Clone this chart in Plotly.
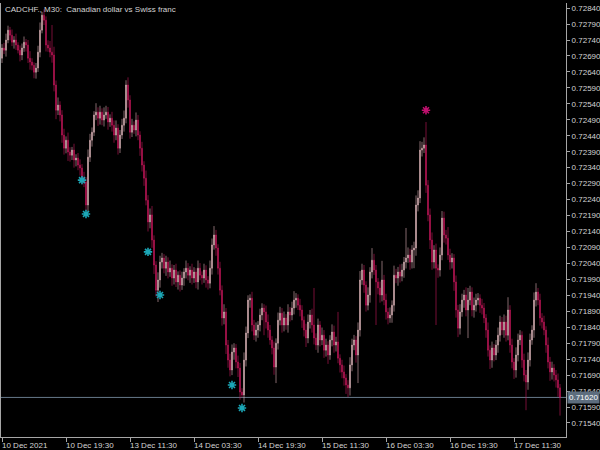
import plotly.graph_objects as go

# ---------------- data (CADCHF M30) ----------------
first_open = 0.72683
close = [
    0.72715, 0.72708, 0.72740, 0.72771, 0.72755, 0.72733, 0.72740, 0.72724, 0.72708, 0.72693,
    0.72715, 0.72733, 0.72724, 0.72683, 0.72671, 0.72661, 0.72639, 0.72652, 0.72702, 0.72771,
    0.72818, 0.72802, 0.72724, 0.72715, 0.72702, 0.72693, 0.72599, 0.72520, 0.72536, 0.72505,
    0.72442, 0.72401, 0.72426, 0.72389, 0.72379, 0.72395, 0.72364, 0.72370, 0.72348, 0.72339,
    0.72307, 0.72295, 0.72223, 0.72373, 0.72426, 0.72451, 0.72505, 0.72514, 0.72495, 0.72514,
    0.72489, 0.72505, 0.72514, 0.72483, 0.72495, 0.72473, 0.72442, 0.72464, 0.72401, 0.72442,
    0.72473, 0.72495, 0.72599, 0.72552, 0.72451, 0.72473, 0.72458, 0.72489, 0.72442, 0.72401,
    0.72348, 0.72307, 0.72238, 0.72170, 0.72192, 0.72113, 0.72035, 0.71956, 0.71988, 0.72044,
    0.72057, 0.72025, 0.72044, 0.72013, 0.72025, 0.71994, 0.72019, 0.71982, 0.72003, 0.71972,
    0.71994, 0.72013, 0.72025, 0.72003, 0.72019, 0.71994, 0.72013, 0.71982, 0.72025, 0.72003,
    0.71994, 0.72019, 0.71988, 0.71978, 0.72025, 0.72098, 0.72129, 0.72088, 0.72025, 0.71956,
    0.71869, 0.71888, 0.71784, 0.71737, 0.71706, 0.71762, 0.71775, 0.71731, 0.71712, 0.71637,
    0.71628, 0.71737, 0.71822, 0.71925, 0.71931, 0.71847, 0.71815, 0.71831, 0.71847, 0.71878,
    0.71900, 0.71888, 0.71856, 0.71831, 0.71800, 0.71775, 0.71715, 0.71790, 0.71862, 0.71884,
    0.71847, 0.71869, 0.71847, 0.71888, 0.71878, 0.71900, 0.71925, 0.71931, 0.71909, 0.71894,
    0.71862, 0.71831, 0.71806, 0.71856, 0.71878, 0.71847, 0.71806, 0.71784, 0.71847, 0.71800,
    0.71815, 0.71768, 0.71784, 0.71753, 0.71800, 0.71825, 0.71784, 0.71794, 0.71743, 0.71722,
    0.71700, 0.71681, 0.71659, 0.71650, 0.71722, 0.71784, 0.71800, 0.71753, 0.71831, 0.71988,
    0.72019, 0.71972, 0.71909, 0.71941, 0.72013, 0.72050, 0.72019, 0.71982, 0.71963, 0.71941,
    0.71988, 0.71925, 0.71888, 0.71869, 0.71878, 0.71909, 0.72003, 0.71994, 0.72013, 0.72000,
    0.72019, 0.72044, 0.72057, 0.72066, 0.72044, 0.72082, 0.72088, 0.72223, 0.72245, 0.72395,
    0.72401, 0.72411, 0.72285, 0.72192, 0.72113, 0.72044, 0.72082, 0.72025, 0.72019, 0.72066,
    0.72182, 0.72129, 0.72119, 0.72066, 0.72044, 0.72057, 0.71982, 0.71894, 0.71837, 0.71888,
    0.71925, 0.71941, 0.71894, 0.71925, 0.71950, 0.71894, 0.71909, 0.71925, 0.71931, 0.71909,
    0.71900, 0.71869, 0.71831, 0.71768, 0.71737, 0.71775, 0.71753, 0.71784, 0.71815, 0.71856,
    0.71831, 0.71856, 0.71815, 0.71894, 0.71784, 0.71731, 0.71706, 0.71753, 0.71800, 0.71815,
    0.71737, 0.71690, 0.71668, 0.71737, 0.71800, 0.71831, 0.71925, 0.71950, 0.71925, 0.71869,
    0.71856, 0.71831, 0.71784, 0.71731, 0.71700, 0.71712, 0.71690, 0.71675, 0.71650, 0.71620,
]

# wick extension beyond the body, in points (0.00001)
upper_wick_pts = [
    12, 16, 20, 14, 10, 18, 12, 20, 9, 15,
    14, 18, 10, 16, 22, 12, 9, 16, 20, 24,
    10, 18, 12, 15, 22, 85, 26, 14, 24, 12,
    15, 20, 12, 24, 15, 10, 20, 12, 16, 18,
    12, 20, 15, 24, 20, 15, 12, 28, 15, 20,
    12, 24, 20, 16, 12, 20, 15, 24, 12, 16,
    20, 24, 15, 24, 15, 20, 12, 24, 16, 12,
    20, 12, 24, 16, 20, 28, 15, 12, 24, 20,
    16, 12, 20, 15, 24, 12, 16, 20, 12, 15,
    20, 12, 24, 16, 12, 20, 15, 12, 24, 16,
    12, 20, 15, 12, 24, 20, 28, 16, 12, 20,
    15, 24, 12, 16, 20, 24, 15, 12, 20, 16,
    12, 24, 20, 15, 12, 20, 16, 24, 12, 20,
    15, 12, 20, 24, 16, 12, 20, 15, 24, 20,
    16, 20, 12, 24, 15, 20, 28, 16, 12, 20,
    15, 12, 20, 24, 16, 20, 116, 15, 20, 12,
    24, 16, 20, 12, 15, 24, 20, 16, 94, 12,
    16, 20, 12, 15, 24, 20, 16, 12, 24, 28,
    20, 16, 12, 24, 15, 38, 20, 16, 12, 20,
    60, 16, 20, 12, 24, 15, 30, 20, 16, 24,
    20, 16, 94, 24, 20, 15, 20, 30, 24, 28,
    20, 24, 72, 16, 20, 24, 15, 20, 12, 24,
    22, 20, 16, 35, 20, 15, 12, 20, 16, 24,
    20, 16, 24, 38, 20, 15, 24, 20, 16, 12,
    20, 16, 12, 24, 15, 20, 12, 16, 24, 20,
    16, 24, 20, 40, 15, 20, 12, 24, 20, 16,
    12, 20, 16, 24, 20, 15, 24, 28, 13, 20,
    15, 20, 12, 24, 16, 20, 12, 16, 20, 12,
]
lower_wick_pts = [
    15, 12, 20, 10, 16, 12, 20, 15, 10, 20,
    16, 12, 20, 15, 24, 16, 19, 20, 12, 16,
    10, 15, 20, 12, 16, 24, 20, 28, 15, 20,
    24, 20, 16, 28, 20, 15, 24, 20, 16, 24,
    20, 16, 16, 24, 15, 20, 12, 16, 24, 20,
    16, 20, 12, 24, 15, 20, 24, 16, 20, 15,
    12, 20, 16, 24, 20, 15, 12, 20, 16, 24,
    20, 24, 16, 30, 20, 24, 28, 20, 37, 24,
    20, 16, 24, 20, 15, 24, 20, 16, 24, 20,
    15, 24, 20, 16, 24, 20, 15, 20, 24, 16,
    20, 15, 24, 20, 16, 20, 15, 24, 20, 16,
    24, 20, 28, 24, 20, 16, 24, 20, 28, 24,
    7, 24, 20, 16, 24, 20, 15, 20, 24, 20,
    16, 73, 20, 24, 15, 20, 24, 50, 20, 16,
    24, 20, 15, 24, 20, 16, 20, 24, 15, 20,
    24, 20, 28, 16, 20, 24, 20, 15, 24, 20,
    16, 24, 20, 28, 15, 20, 24, 20, 16, 24,
    20, 24, 28, 29, 24, 20, 16, 24, 88, 20,
    15, 24, 20, 16, 24, 20, 15, 135, 20, 24,
    20, 16, 24, 20, 15, 24, 20, 16, 24, 20,
    16, 24, 20, 15, 24, 20, 57, 24, 20, 16,
    20, 15, 24, 20, 28, 24, 20, 178, 24, 20,
    16, 24, 20, 15, 24, 20, 28, 24, 28, 20,
    15, 24, 20, 88, 16, 20, 24, 20, 15, 24,
    20, 16, 24, 20, 28, 24, 20, 16, 24, 20,
    15, 24, 20, 16, 24, 20, 28, 24, 20, 16,
    24, 20, 88, 24, 20, 15, 24, 20, 16, 24,
    20, 16, 24, 20, 28, 24, 20, 24, 28, 57,
]

buy_bars = [40, 42, 73, 79, 115, 120]
buy_prices = [0.72301, 0.72195, 0.72076, 0.71941, 0.71659, 0.71587]
sell_bars = [212]
sell_prices = [0.72520]

x_tick_bars = [0, 32, 64, 96, 128, 160, 192, 224, 256]
x_tick_labels = ["10 Dec 2021", "10 Dec 19:30", "13 Dec 11:30", "14 Dec 03:30",
                 "14 Dec 19:30", "15 Dec 11:30", "16 Dec 03:30", "16 Dec 19:30",
                 "17 Dec 11:30"]
y_ticks = [0.71540, 0.71590, 0.71640, 0.71690, 0.71740, 0.71790, 0.71840, 0.71890,
           0.71940, 0.71990, 0.72040, 0.72090, 0.72140, 0.72190, 0.72240, 0.72290,
           0.72340, 0.72390, 0.72440, 0.72490, 0.72540, 0.72590, 0.72640, 0.72690,
           0.72740, 0.72790, 0.72840]
current_price = 0.71620
title_text = "CADCHF., M30:  Canadian dollar vs Swiss franc"

# ---------------- build ----------------
opens = [first_open] + close[:-1]
highs = [max(o, c) + u * 1e-5 for o, c, u in zip(opens, close, upper_wick_pts)]
lows = [min(o, c) - d * 1e-5 for o, c, d in zip(opens, close, lower_wick_pts)]
bars = list(range(len(close)))

AXIS_COL = "#a6a6a6"
TXT_COL = "#d4d4d4"
FONT = "Liberation Sans"

fig = go.Figure()
fig.add_trace(go.Candlestick(
    x=bars, open=opens, high=highs, low=lows, close=close,
    increasing=dict(line=dict(color="#dcb0b6", width=0.6), fillcolor="#f7dcdc"),
    decreasing=dict(line=dict(color="#c8185c", width=0.6), fillcolor="#c8185c"),
    whiskerwidth=0, hoverinfo="skip", showlegend=False,
))
fig.add_trace(go.Scatter(
    x=buy_bars, y=buy_prices, mode="markers",
    marker=dict(symbol="asterisk-open", size=7, color="#1ba6b6",
                line=dict(color="#1ba6b6", width=1.6)),
    hoverinfo="skip", showlegend=False,
))
fig.add_trace(go.Scatter(
    x=sell_bars, y=sell_prices, mode="markers",
    marker=dict(symbol="asterisk-open", size=7, color="#c0106e",
                line=dict(color="#c0106e", width=1.6)),
    hoverinfo="skip", showlegend=False,
))

fig.add_shape(type="line", xref="paper", x0=0, x1=1, yref="y",
              y0=current_price, y1=current_price,
              line=dict(color="#66788a", width=1), layer="below")

annotations = [
    dict(xref="paper", yref="paper", x=0, y=1, xanchor="left", yanchor="top",
         text=title_text, showarrow=False, xshift=2, yshift=0,
         font=dict(family=FONT, size=8, color=TXT_COL)),
    dict(xref="paper", yref="y", x=1, y=current_price, xanchor="left", yanchor="middle",
         text=f"{current_price:.5f}", showarrow=False, xshift=1,
         bgcolor="#5d6d7e", borderpad=1,
         font=dict(family=FONT, size=8, color="#ffffff")),
]
for b, lab in zip(x_tick_bars, x_tick_labels):
    annotations.append(dict(xref="x", yref="paper", x=b, y=0, xanchor="left",
                            yanchor="top", text=lab, showarrow=False,
                            xshift=-2, yshift=-2,
                            font=dict(family=FONT, size=8, color=TXT_COL)))

fig.update_layout(
    width=600, height=450,
    margin=dict(l=1, r=34, t=3, b=13),
    paper_bgcolor="#000000", plot_bgcolor="#000000",
    showlegend=False,
    boxgap=0.4,
    annotations=annotations,
    xaxis=dict(range=[-0.5, 282], showgrid=False, zeroline=False,
               showline=True, linecolor=AXIS_COL, linewidth=1,
               ticks="outside", ticklen=4, tickcolor=AXIS_COL,
               tickvals=x_tick_bars, showticklabels=False,
               rangeslider=dict(visible=False), fixedrange=True),
    yaxis=dict(side="right", range=[0.71496, 0.72856], showgrid=False,
               zeroline=False, showline=True, mirror=True,
               linecolor=AXIS_COL, linewidth=1,
               ticks="outside", ticklen=3, tickcolor=AXIS_COL,
               tickvals=y_ticks, ticktext=[f"{v:.5f}" for v in y_ticks],
               tickfont=dict(family=FONT, size=8, color=TXT_COL),
               automargin=False, fixedrange=True),
)

fig.write_html(
    "out.html",
    config={"displayModeBar": False},
    post_script="document.body.style.margin='0';document.body.style.background='#000';",
)
